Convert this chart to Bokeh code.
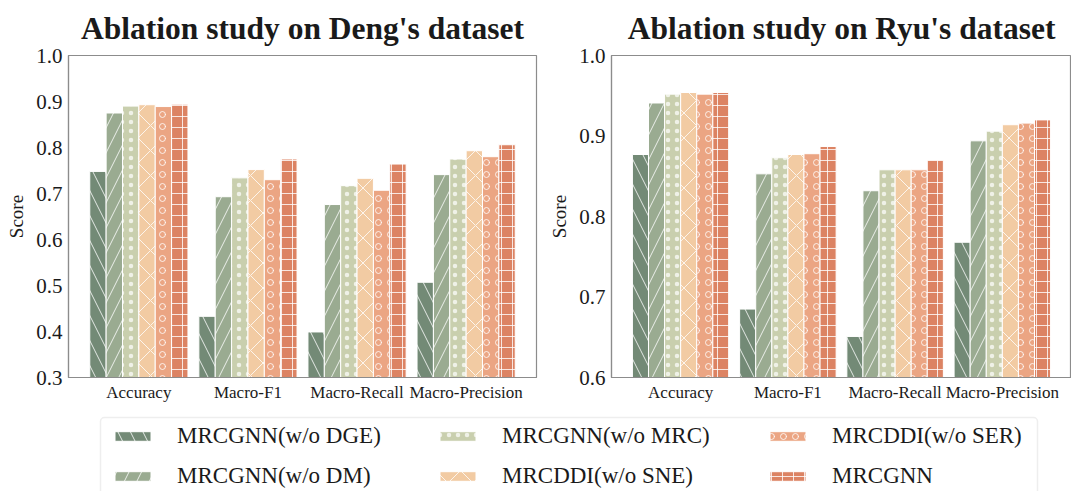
from bokeh.plotting import figure
from bokeh.models import (ColumnDataSource, FactorRange, Range1d, FixedTicker,
                          PrintfTickFormatter, Legend, LegendItem, BoxAnnotation)
from bokeh.layouts import column, row
from bokeh.transform import dodge
from bokeh.embed import file_html
from bokeh.resources import INLINE

# ---------------- data ----------------
metrics = ["Accuracy", "Macro-F1", "Macro-Recall", "Macro-Precision"]
models = ["MRCGNN(w/o DGE)", "MRCGNN(w/o DM)", "MRCGNN(w/o MRC)",
          "MRCDDI(w/o SNE)", "MRCDDI(w/o SER)", "MRCGNN"]

deng_wo_dge = [0.748, 0.433, 0.399, 0.507]
deng_wo_dm = [0.875, 0.693, 0.676, 0.741]
deng_wo_mrc = [0.890, 0.734, 0.717, 0.775]
deng_wo_sne = [0.893, 0.752, 0.733, 0.793]
deng_wo_ser = [0.889, 0.730, 0.707, 0.780]
deng_mrcgnn = [0.894, 0.775, 0.764, 0.806]

ryu_wo_dge = [0.877, 0.685, 0.651, 0.768]
ryu_wo_dm = [0.941, 0.853, 0.832, 0.894]
ryu_wo_mrc = [0.952, 0.873, 0.858, 0.906]
ryu_wo_sne = [0.954, 0.877, 0.858, 0.914]
ryu_wo_ser = [0.952, 0.878, 0.858, 0.916]
ryu_mrcgnn = [0.954, 0.887, 0.870, 0.920]

deng_ticks = [0.3, 0.4, 0.5, 0.6, 0.7, 0.8, 0.9, 1.0]
ryu_ticks = [0.6, 0.7, 0.8, 0.9, 1.0]

# ---------------- styles ----------------
colors = ["#738a76", "#9aab91", "#c9cfae", "#f2cba3", "#eba583", "#dc8363"]
hatches = ["\\", "/", ".", "x", "o", "+"]
hatch_scales = [25, 25, 9, 25, 12, 11]
hatch_alphas = [0.8, 0.8, 0.7, 0.8, 0.8, 0.8]
FONT = "Liberation Serif"
GRAY = "#8c8c8c"
TXT = "#1a1a1a"
BAR_W = 0.15


def bar_style(i):
    return dict(fill_color=colors[i], line_color="white", line_width=1,
                hatch_pattern=hatches[i], hatch_color="white", hatch_alpha=hatch_alphas[i],
                hatch_scale=hatch_scales[i], hatch_weight=1)


def make_panel(title, series, y_start, y_ticks, width, b_left, b_right):
    data = dict(metric=metrics)
    for i, s in enumerate(series):
        data[f"s{i}"] = s
    src = ColumnDataSource(data)
    p = figure(x_range=FactorRange(*metrics, range_padding=0.145,
                                   range_padding_units="absolute"),
               y_range=Range1d(y_start, 1.0), width=width, height=405,
               output_backend="svg", toolbar_location=None,
               min_border_left=b_left, min_border_right=b_right,
               min_border_top=55, min_border_bottom=28, title=title)
    n = len(series)
    for i in range(n):
        off = (i - (n - 1) / 2) * BAR_W
        p.vbar(x=dodge("metric", off, range=p.x_range), top=f"s{i}", bottom=0,
               width=BAR_W, source=src, **bar_style(i))
    p.title.text_font = FONT
    p.title.text_font_size = "31.5px"
    p.title.text_font_style = "bold"
    p.title.text_color = TXT
    p.title.align = "center"
    p.title.vertical_align = "top"
    p.title.standoff = 16
    p.grid.visible = False
    p.outline_line_color = GRAY
    p.outline_line_width = 1.2
    xax = p.below[0]
    yax = p.left[0]
    for ax in (xax, yax):
        ax.axis_line_color = GRAY
        ax.axis_line_width = 1.2
        ax.major_tick_line_color = None
        ax.minor_tick_line_color = None
        ax.major_tick_out = 0
        ax.major_label_text_font = FONT
        ax.major_label_text_color = TXT
    xax.major_label_text_font_size = "17px"
    xax.major_label_standoff = 5
    yax.ticker = FixedTicker(ticks=y_ticks)
    yax.formatter = PrintfTickFormatter(format="%.1f")
    yax.major_label_text_font_size = "21px"
    yax.major_label_standoff = 6
    yax.axis_label = "Score"
    yax.axis_label_text_font = FONT
    yax.axis_label_text_font_size = "19px"
    yax.axis_label_text_font_style = "normal"
    yax.axis_label_text_color = TXT
    yax.axis_label_standoff = 6
    return p


p1 = make_panel("Ablation study on Deng's dataset",
                [deng_wo_dge, deng_wo_dm, deng_wo_mrc, deng_wo_sne, deng_wo_ser, deng_mrcgnn],
                0.3, deng_ticks, 546, 68, 10)
p2 = make_panel("Ablation study on Ryu's dataset",
                [ryu_wo_dge, ryu_wo_dm, ryu_wo_mrc, ryu_wo_sne, ryu_wo_ser, ryu_mrcgnn],
                0.6, ryu_ticks, 525, 60, 0)

# ---------------- legend strip ----------------
leg = figure(width=1071, height=86, x_range=Range1d(0, 1071), y_range=Range1d(0, 86),
             output_backend="svg", toolbar_location=None, min_border=0,
             x_axis_location=None, y_axis_location=None)
leg.outline_line_color = None
leg.grid.visible = False
leg.add_layout(BoxAnnotation(left=100, right=1037, top=74, bottom=-20,
                             fill_color=None, line_color="#c8c8c8", line_width=1.5,
                             border_radius=4))

deng_series = [deng_wo_dge, deng_wo_dm, deng_wo_mrc, deng_wo_sne, deng_wo_ser, deng_mrcgnn]
rends = []
for i in range(len(models)):
    r = leg.vbar(x=[0], top=[deng_series[i][0]], width=0.1, **bar_style(i))
    r.visible = False  # only used as legend swatch
    rends.append(r)

col_x = [110, 435, 765]
for c in range(3):
    items = [LegendItem(label=models[2 * c + k], renderers=[rends[2 * c + k]]) for k in range(2)]
    lg = Legend(items=items, location=(col_x[c], 0), orientation="vertical",
                label_text_font=FONT, label_text_font_size="23px", label_text_color=TXT,
                glyph_width=45, glyph_height=12, label_standoff=22, label_height=30,
                spacing=10, padding=0, margin=0, border_line_color=None,
                background_fill_alpha=0, inactive_fill_alpha=0)
    leg.add_layout(lg)

layout = column(row(p1, p2), leg)
open("out.html", "w").write(file_html(layout, INLINE))
